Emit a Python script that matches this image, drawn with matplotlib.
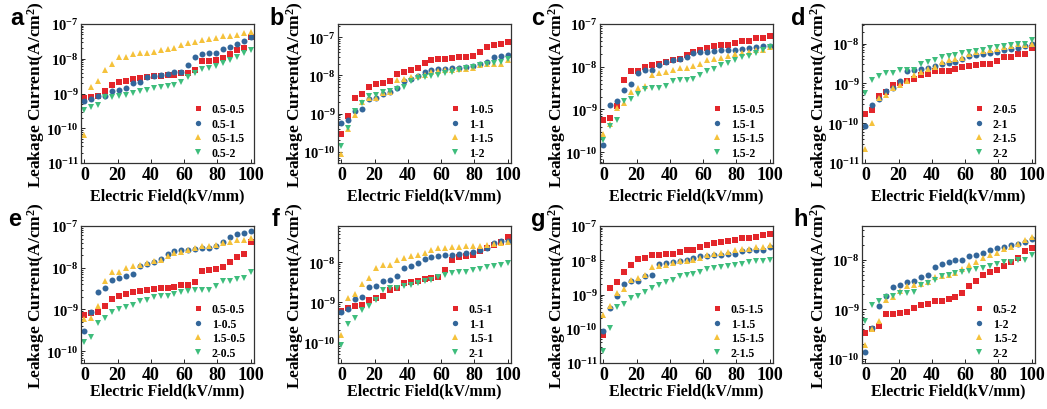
import matplotlib
matplotlib.use("Agg")
import matplotlib.pyplot as plt
from matplotlib.ticker import LogLocator

plt.rcParams['font.family'] = ['Liberation Serif', 'DejaVu Serif']
plt.rcParams['font.weight'] = 'bold'
plt.rcParams['mathtext.fontset'] = 'custom'
plt.rcParams['mathtext.rm'] = 'Liberation Serif:bold'
plt.rcParams['mathtext.it'] = 'Liberation Serif:bold'
plt.rcParams['mathtext.bf'] = 'Liberation Serif:bold'

# Electric field (kV/mm)
field = [0, 4.17, 8.33, 12.5, 16.67, 20.83, 25, 29.17, 33.33, 37.5, 41.67, 45.83,
         50, 54.17, 58.33, 62.5, 66.67, 70.83, 75, 79.17, 83.33, 87.5, 91.67, 95.83, 100]

# Leakage current (A/cm^2), series named by "X-Y"
s05_05 = [7.2e-10, 8.1e-10, 8.7e-10, 1.2e-9, 1.8e-9, 2.1e-9, 2.3e-9, 2.6e-9, 2.8e-9, 3.0e-9, 3.1e-9, 3.2e-9,
          3.3e-9, 3.5e-9, 3.8e-9, 3.9e-9, 4.6e-9, 8.5e-9, 8.8e-9, 9.3e-9, 1.05e-8, 1.4e-8, 1.8e-8, 2.1e-8, 4.2e-8]
s05_1 = [6.0e-10, 7.0e-10, 8.2e-10, 8.3e-10, 1.15e-9, 1.3e-9, 1.45e-9, 2.0e-9, 2.2e-9, 3.0e-9, 3.1e-9, 3.4e-9,
         3.7e-9, 4.1e-9, 4.2e-9, 6.5e-9, 1.15e-8, 1.35e-8, 1.45e-8, 1.5e-8, 1.9e-8, 2.2e-8, 2.7e-8, 3.2e-8, 4.2e-8]
s05_15 = [6.5e-11, 1.5e-9, 2.3e-9, 4.6e-9, 7.2e-9, 1.1e-8, 1.15e-8, 1.4e-8, 1.45e-8, 1.5e-8, 1.55e-8, 1.8e-8,
          1.95e-8, 2.05e-8, 2.5e-8, 2.85e-8, 3.1e-8, 3.4e-8, 3.6e-8, 4.0e-8, 4.4e-8, 4.6e-8, 4.8e-8, 5.5e-8, 5.8e-8]
s05_2 = [3.3e-10, 4.0e-10, 4.7e-10, 7.9e-10, 8.1e-10, 8.5e-10, 9.0e-10, 1.05e-9, 1.2e-9, 1.3e-9, 1.45e-9, 1.5e-9,
         1.6e-9, 1.8e-9, 2.1e-9, 2.9e-9, 3.8e-9, 5.0e-9, 5.6e-9, 6.3e-9, 7.5e-9, 9.0e-9, 1.1e-8, 1.5e-8, 1.75e-8]

s1_05 = [3.0e-10, 8.7e-10, 2.6e-9, 3.2e-9, 5.0e-9, 5.8e-9, 6.2e-9, 7.0e-9, 1.1e-8, 1.25e-8, 1.4e-8, 1.6e-8,
         2.1e-8, 2.5e-8, 2.7e-8, 2.7e-8, 2.8e-8, 3.0e-8, 3.0e-8, 3.3e-8, 4.1e-8, 5.5e-8, 6.3e-8, 6.7e-8, 7.4e-8]
s1_1 = [5.8e-10, 6.7e-10, 1.2e-9, 1.35e-9, 2.4e-9, 2.5e-9, 3.3e-9, 3.6e-9, 4.6e-9, 7.0e-9, 8.2e-9, 9.4e-9,
        1.2e-8, 1.35e-8, 1.45e-8, 1.5e-8, 1.55e-8, 1.6e-8, 1.7e-8, 1.8e-8, 2.0e-8, 2.3e-8, 3.0e-8, 3.3e-8, 3.4e-8]
s1_15 = [8.8e-11, 4.0e-10, 9.0e-10, 2.0e-9, 2.5e-9, 2.5e-9, 3.4e-9, 3.6e-9, 7.6e-9, 8.2e-9, 9.0e-9, 9.8e-9,
         1.05e-8, 1.2e-8, 1.3e-8, 1.35e-8, 1.4e-8, 1.45e-8, 1.5e-8, 1.55e-8, 1.85e-8, 1.95e-8, 1.95e-8, 2.0e-8, 2.5e-8]
s1_2 = [1.4e-10, 4.3e-10, 1.15e-9, 1.9e-9, 2.8e-9, 3.1e-9, 3.6e-9, 3.8e-9, 4.4e-9, 5.0e-9, 7.0e-9, 8.4e-9,
        9.2e-9, 9.7e-9, 1.0e-8, 1.18e-8, 1.25e-8, 1.4e-8, 1.55e-8, 1.7e-8, 1.85e-8, 2.0e-8, 2.1e-8, 2.3e-8, 2.6e-8]

s15_05 = [5.8e-10, 6.2e-10, 1.2e-9, 4.8e-9, 8.1e-9, 8.1e-9, 1.0e-8, 1.07e-8, 1.15e-8, 1.3e-8, 1.45e-8, 1.55e-8,
          1.9e-8, 2.25e-8, 2.4e-8, 2.7e-8, 3.0e-8, 3.3e-8, 3.3e-8, 3.5e-8, 3.9e-8, 4.1e-8, 4.7e-8, 4.7e-8, 5.3e-8]
s15_1 = [1.5e-10, 1.25e-9, 1.6e-9, 2.9e-9, 3.9e-9, 7.0e-9, 8.3e-9, 8.3e-9, 1.12e-8, 1.3e-8, 1.45e-8, 1.55e-8,
         1.7e-8, 2.05e-8, 2.25e-8, 2.25e-8, 2.35e-8, 2.45e-8, 2.5e-8, 2.5e-8, 2.55e-8, 2.75e-8, 2.85e-8, 3.0e-8, 3.1e-8]
s15_15 = [2.6e-10, 4.5e-10, 1.1e-9, 1.45e-9, 2.6e-9, 3.1e-9, 3.6e-9, 6.3e-9, 7.0e-9, 7.5e-9, 8.3e-9, 9.2e-9,
          9.6e-9, 1.03e-8, 1.15e-8, 1.4e-8, 1.55e-8, 1.6e-8, 1.8e-8, 1.95e-8, 2.1e-8, 2.2e-8, 2.4e-8, 2.5e-8, 2.85e-8]
s15_2 = [1.9e-10, 4.1e-10, 5.7e-10, 1.55e-9, 1.8e-9, 2.35e-9, 3.0e-9, 3.1e-9, 3.2e-9, 3.5e-9, 4.6e-9, 4.8e-9,
         5.0e-9, 5.3e-9, 6.4e-9, 8.0e-9, 9.0e-9, 1.1e-8, 1.25e-8, 1.4e-8, 1.65e-8, 1.8e-8, 2.1e-8, 2.5e-8, 2.9e-8]

s2_05 = [1.7e-10, 2.2e-10, 4.8e-10, 6.1e-10, 8.9e-10, 1.0e-9, 1.15e-9, 1.26e-9, 1.6e-9, 1.7e-9, 2.0e-9, 2.05e-9,
         2.1e-9, 2.35e-9, 2.6e-9, 2.75e-9, 2.85e-9, 3.0e-9, 3.0e-9, 3.65e-9, 4.7e-9, 4.7e-9, 5.4e-9, 5.6e-9, 7.9e-9]
s2_1 = [8.4e-11, 2.8e-10, 4.0e-10, 6.5e-10, 7.8e-10, 1.15e-9, 2.0e-9, 2.2e-9, 2.3e-9, 2.5e-9, 2.7e-9, 3.0e-9,
        3.3e-9, 3.5e-9, 4.2e-9, 4.9e-9, 5.3e-9, 5.5e-9, 5.8e-9, 6.3e-9, 6.8e-9, 7.4e-9, 7.8e-9, 8.5e-9, 9.5e-9]
s2_15 = [2.2e-11, 1.03e-10, 4.4e-10, 5.2e-10, 7.8e-10, 9.2e-10, 1.15e-9, 1.6e-9, 1.9e-9, 2.3e-9, 2.6e-9, 3.5e-9,
         3.8e-9, 4.1e-9, 4.4e-9, 5.4e-9, 6.0e-9, 6.5e-9, 7.0e-9, 7.2e-9, 8.0e-9, 8.8e-9, 9.5e-9, 9.3e-9, 1.0e-8]
s2_2 = [5.8e-10, 1.2e-9, 1.5e-9, 1.8e-9, 1.85e-9, 2.15e-9, 2.15e-9, 2.2e-9, 3.1e-9, 3.4e-9, 3.9e-9, 4.7e-9,
        4.9e-9, 5.3e-9, 5.8e-9, 6.0e-9, 6.5e-9, 6.8e-9, 7.6e-9, 8.2e-9, 8.9e-9, 9.2e-9, 9.7e-9, 1.0e-8, 1.25e-8]

panel_letters = ['a', 'b', 'c', 'd', 'e', 'f', 'g', 'h']
panel_series = [
    [s05_05, s05_1, s05_15, s05_2],
    [s1_05, s1_1, s1_15, s1_2],
    [s15_05, s15_1, s15_15, s15_2],
    [s2_05, s2_1, s2_15, s2_2],
    [s05_05, s1_05, s15_05, s2_05],
    [s05_1, s1_1, s15_1, s2_1],
    [s05_15, s1_15, s15_15, s2_15],
    [s05_2, s1_2, s15_2, s2_2],
]
panel_labels = [
    ['0.5-0.5', '0.5-1', '0.5-1.5', '0.5-2'],
    ['1-0.5', '1-1', '1-1.5', '1-2'],
    ['1.5-0.5', '1.5-1', '1.5-1.5', '1.5-2'],
    ['2-0.5', '2-1', '2-1.5', '2-2'],
    ['0.5-0.5', '1-0.5', '1.5-0.5', '2-0.5'],
    ['0.5-1', '1-1', '1.5-1', '2-1'],
    ['0.5-1.5', '1-1.5', '1.5-1.5', '2-1.5'],
    ['0.5-2', '1-2', '1.5-2', '2-2'],
]
panel_ylims = [(1e-11, 1e-7), (5.1e-11, 2.2e-7), (5.6e-11, 1e-7), (1e-11, 3.1e-8),
               (5.2e-11, 1e-7), (3e-11, 8e-8), (1e-11, 1e-7), (8.3e-11, 4.8e-8)]

colors = ['#e3262b', '#33669a', '#f5c23c', '#3ebd7c']
markers = ['s', 'o', '^', 'v']
msizes = [4.0, 4.3, 4.8, 4.8]

W, H = 1047, 410
fig = plt.figure(figsize=(W / 100, H / 100), dpi=100)

col_left = [81, 338, 600, 862]
col_width = 173
row_top = [25, 227]
row_height = [139, 137]
ylabel_offset_px = [34, 32, 32, 32]
letter_pos = [(10, 25), (269, 25), (531, 25), (791, 25), (8, 226), (272, 226), (531, 226), (793, 226)]

for k in range(8):
    r, c = divmod(k, 4)
    left = col_left[c] / W
    bottom = 1 - (row_top[r] + row_height[r]) / H
    ax = fig.add_axes([left, bottom, col_width / W, row_height[r] / H])
    for j in range(4):
        ax.plot(field, panel_series[k][j], linestyle='none', marker=markers[j],
                ms=msizes[j], color=colors[j], markeredgewidth=0, label=panel_labels[k][j])
    ax.set_yscale('log')
    ax.set_ylim(*panel_ylims[k])
    ax.set_xlim(-2, 102)
    ax.set_xticks([0, 20, 40, 60, 80, 100])
    ax.yaxis.set_major_locator(LogLocator(base=10, numticks=12))
    ax.yaxis.set_minor_locator(LogLocator(base=10, subs=range(2, 10), numticks=12))
    ax.tick_params(which='both', direction='in', width=0.6, pad=2)
    ax.tick_params(axis='x', labelsize=13)
    ax.tick_params(axis='y', labelsize=10.5, pad=1.5)
    ax.tick_params(which='major', length=3)
    ax.tick_params(which='minor', length=1.5)
    for sp in ax.spines.values():
        sp.set_linewidth(0.9)
        sp.set_color('#333333')
    ax.set_xlabel('Electric Field(kV/mm)', fontsize=11.5, fontweight='bold',
                  labelpad=3 if r == 0 else 0)
    ax.set_ylabel('Leakage Current(A/cm$^2$)', fontsize=12.5, fontweight='bold')
    ax.yaxis.set_label_coords(-ylabel_offset_px[c] / col_width, 0.5)
    ax.legend(loc='lower left', bbox_to_anchor=(0.64, 0.03), frameon=False,
              fontsize=8.5, handlelength=1.0, handletextpad=0.7, labelspacing=0.22,
              borderpad=0, borderaxespad=0, markerscale=0.9)
    lx, ly = letter_pos[k]
    fig.text(lx / W, 1 - ly / H, panel_letters[k], fontsize=17, fontweight='bold',
             family=['Liberation Sans', 'DejaVu Sans'], ha='left', va='baseline')

fig.savefig('out.png', dpi=100)
